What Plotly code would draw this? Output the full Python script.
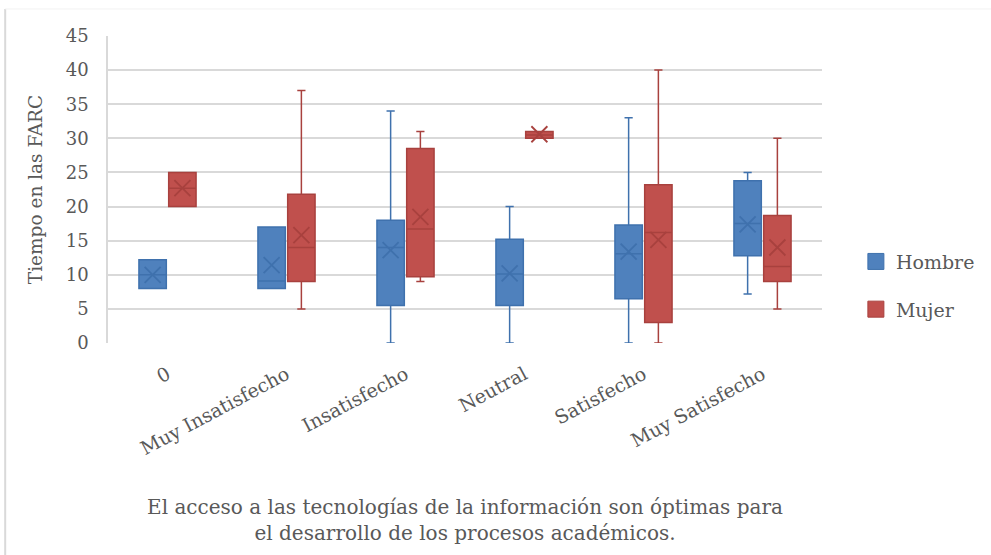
import plotly.graph_objects as go

categories = ["0", "Muy Insatisfecho", "Insatisfecho", "Neutral", "Satisfecho", "Muy Satisfecho"]

# Hombre
h_min = [8, 8, 0, 0, 0, 7.2]
h_q1 = [8, 8, 5.5, 5.5, 6.5, 12.8]
h_med = [10, 9.1, 14.0, 10.1, 13.1, 17.5]
h_q3 = [12.2, 17, 18, 15.2, 17.3, 23.8]
h_max = [12.2, 17, 34, 20, 33, 25]
h_mean = [10, 11.4, 13.6, 10.2, 13.4, 17.4]

# Mujer
m_min = [20, 5, 9, 30, 0, 5]
m_q1 = [20, 9, 9.7, 30, 3, 9]
m_med = [22.7, 14, 16.7, 30.5, 16.2, 11.2]
m_q3 = [25, 21.8, 28.5, 31, 23.2, 18.7]
m_max = [25, 37, 31, 31, 40, 30]
m_mean = [22.7, 15.8, 18.5, 30.6, 15.1, 14.0]

y_ticks = [0, 5, 10, 15, 20, 25, 30, 35, 40, 45]
series_names = ["Hombre", "Mujer"]

BLUE = "#4F81BD"
BLUE_L = "#3F71AD"
RED = "#C0504D"
RED_L = "#A8413E"
FONT = "DejaVu Serif"
GREY = "#595959"

fig = go.Figure()
fig.add_trace(go.Box(
    name=series_names[0], x=categories, q1=h_q1, median=h_med, q3=h_q3,
    lowerfence=h_min, upperfence=h_max, offsetgroup="h", showlegend=False,
    fillcolor=BLUE, line=dict(color=BLUE_L, width=1.5), whiskerwidth=0.3,
    boxpoints=False, hoverinfo="skip"))
fig.add_trace(go.Box(
    name=series_names[1], x=categories, q1=m_q1, median=m_med, q3=m_q3,
    lowerfence=m_min, upperfence=m_max, offsetgroup="m", showlegend=False,
    fillcolor=RED, line=dict(color=RED_L, width=1.5), whiskerwidth=0.3,
    boxpoints=False, hoverinfo="skip"))
fig.add_trace(go.Scatter(
    x=categories, y=h_mean, mode="markers", offsetgroup="h", showlegend=False,
    marker=dict(symbol="x-thin", size=16, line=dict(color=BLUE_L, width=1.8)),
    hoverinfo="skip"))
fig.add_trace(go.Scatter(
    x=categories, y=m_mean, mode="markers", offsetgroup="m", showlegend=False,
    marker=dict(symbol="x-thin", size=16, line=dict(color=RED_L, width=1.8)),
    hoverinfo="skip"))
# legend entries
for nm, fc, lc in [(series_names[0], BLUE, BLUE_L), (series_names[1], RED, RED_L)]:
    fig.add_trace(go.Scatter(
        x=[None], y=[None], mode="markers", name=nm, legendgroup=nm,
        marker=dict(symbol="square", size=18, color=fc, line=dict(color=lc, width=1))))

fig.update_layout(
    width=991, height=555,
    margin=dict(l=108, r=168, t=36, b=212),
    paper_bgcolor="white", plot_bgcolor="white",
    boxmode="group", boxgap=0.5, boxgroupgap=0.08,
    scattermode="group", scattergap=0.5,
    font=dict(family=FONT, color=GREY),
    showlegend=True,
    legend=dict(x=1.046, y=0.187, xanchor="left", yanchor="middle",
                font=dict(family=FONT, size=19, color=GREY),
                tracegroupgap=20, itemsizing="trace"),
    xaxis=dict(
        type="category", tickangle=-28, tickfont=dict(family=FONT, size=19, color=GREY),
        showgrid=False, showline=False, ticks="", ticklabelstandoff=16,
        title=dict(text="El acceso a las tecnologías de la información son óptimas para<br>el desarrollo de los procesos académicos.",
                   font=dict(family=FONT, size=20, color=GREY), standoff=41),
    ),
    yaxis=dict(
        range=[0, 45], tickvals=y_ticks, tickfont=dict(family=FONT, size=18, color=GREY),
        showgrid=True, gridcolor="#D9D9D9", gridwidth=1.5, zeroline=False,
        showline=True, linecolor="#D9D9D9", linewidth=1.5, ticks="", ticklabelstandoff=14,
        title=dict(text="Tiempo en las FARC", font=dict(family=FONT, size=18.5, color=GREY), standoff=18),
    ),
    shapes=[
        dict(type="line", xref="paper", yref="paper", x0=-0.144, x1=-0.144, y0=1.088, y1=-0.7,
             line=dict(color="#D9D9D9", width=2)),
        dict(type="line", xref="paper", yref="paper", x0=-0.144, x1=1.25, y0=1.088, y1=1.088,
             line=dict(color="#F2F2F2", width=1)),
    ],
)

fig.write_html("out.html", config={"displayModeBar": False},
               post_script="document.body.style.margin='0px';")
